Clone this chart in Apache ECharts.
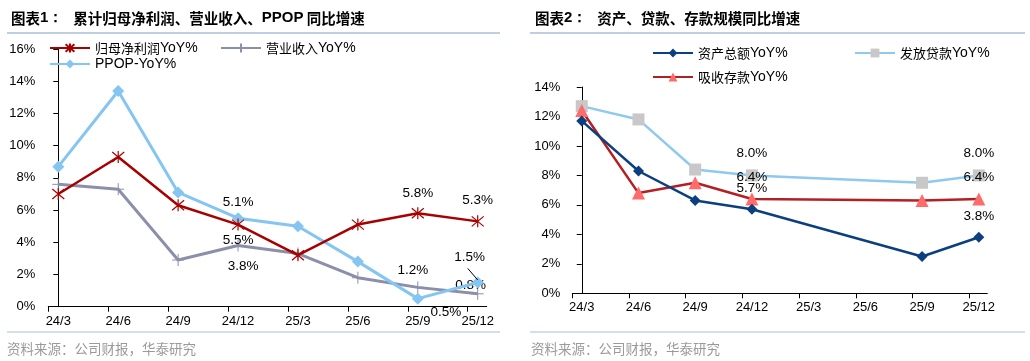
<!DOCTYPE html>
<html><head><meta charset="utf-8">
<script src="https://cdn.jsdelivr.net/npm/echarts@6/dist/echarts.min.js"></script>
<style>html,body{margin:0;padding:0;background:#fff}#c{width:1030px;height:361px}</style>
</head><body><div id="c"></div>
<script>
// ---------- data ----------
const categories = ['24/3','24/6','24/9','24/12','25/3','25/6','25/9','25/12'];
// chart 1 (%)
const netProfitYoY = [7.0, 9.3, 6.3, 5.1, 3.2, 5.1, 5.8, 5.3];
const revenueYoY   = [7.6, 7.3, 2.9, 3.8, 3.3, 1.8, 1.2, 0.8];
const ppopYoY      = [8.7, 13.4, 7.1, 5.5, 5.0, 2.8, 0.5, 1.5];
// chart 2 (%)
const assetsYoY    = [11.7, 8.3, 6.3, 5.7, null, null, 2.5, 3.8];
const loansYoY     = [12.7, 11.8, 8.4, 8.0, null, null, 7.5, 8.0];
const depositsYoY  = [12.4, 6.8, 7.5, 6.4, null, null, 6.3, 6.4];
const names1 = ['归母净利润YoY%','营业收入YoY%','PPOP-YoY%'];
const names2 = ['资产总额YoY%','发放贷款YoY%','吸收存款YoY%'];

// ---------- label placement (pixel offsets from point) ----------
const lblNet  = {3:[0,-22], 6:[0,-20], 7:[0,-21]};
const lblRev  = {3:[5,21], 6:[-5,-17], 7:[-7,-9]};
const lblPpop = {3:[0,22.5], 6:[28,14], 7:[-8,-25]};
const lblAst  = {3:[0,-21], 7:[0,-21]};
const lblLoan = {3:[0,-22], 7:[0,-22]};
const lblDep  = {3:[0,-22], 7:[0,-22]};

const LAT = 'Liberation Sans, Arial, sans-serif';
const CJK = 'Noto Sans CJK SC, sans-serif';

function pts(vals, lbl){
  const out = [];
  vals.forEach((v,i)=>{
    if (v == null) return;
    const o = {value:[i, v]};
    if (lbl[i]) o.label = {show:true, position:'inside', offset:lbl[i]};
    out.push(o);
  });
  return out;
}
const labelBase = {show:false, color:'#000', fontSize:13.5, fontFamily:LAT,
  formatter: p => p.value[1].toFixed(1) + '%'};

function xAxisCfg(gi){
  return {type:'value', gridIndex:gi, min:-1/6, max:7.15,
    axisLine:{show:true, onZero:false, lineStyle:{color:'#000', width:1}},
    axisTick:{show:true, length:5, customValues:categories.map((_,i)=>i-1/6), lineStyle:{color:'#000'}},
    axisLabel:{customValues:categories.map((_,i)=>i), formatter:v=>categories[Math.round(v)],
      color:'#000', fontSize:13, fontFamily:LAT, margin:8},
    splitLine:{show:false}};
}
function yAxisCfg(gi, max, margin){
  return {type:'value', gridIndex:gi, min:0, max:max, interval:2,
    axisLine:{show:true, lineStyle:{color:'#000', width:1}},
    axisTick:{show:true, length:5, lineStyle:{color:'#000'}},
    axisLabel:{formatter:v=>v+'%', color:'#000', fontSize:13, fontFamily:LAT, margin:margin},
    splitLine:{show:false}};
}
const richLegend = {c:{fontFamily:CJK, fontSize:13, color:'#000'}, l:{fontFamily:LAT, fontSize:14, color:'#000'}};
function legendFmt(n){
  const m = n.match(/^([^A-Za-z]*)(.*)$/);
  return (m[1] ? '{c|'+m[1]+'}' : '') + '{l|'+m[2]+'}';
}
function leg(name, left, top){
  return {data:[name], left:left, top:top, itemWidth:40, itemHeight:11, padding:0,
    formatter:legendFmt, textStyle:{rich:richLegend, lineHeight:16}, selectedMode:false};
}

const asterisk = 'path://M0,0L10,10M10,0L0,10M5,-1L5,11';
const plus = 'path://M5,0L5,10M0,5L10,5';

const chart = echarts.init(document.getElementById('c'), null, {renderer:'canvas'});
const titleRich = {
  a:{fontFamily:LAT, fontWeight:'bold', fontSize:15, color:'#000'},
  b:{fontFamily:CJK, fontWeight:'bold', fontSize:14.5, color:'#000'},
  c:{fontFamily:LAT, fontWeight:'bold', fontSize:15, color:'#000'}
};
const footer = '资料来源：公司财报，华泰研究';
chart.setOption({
  animation:false,
  title:[
    {left:6, top:4, text:'{b|图表}{a|1：}  {b|累计归母净利润、营业收入、}{c|PPOP}{b| 同比增速}', textStyle:{rich:titleRich}},
    {left:530, top:4, text:'{b|图表}{a|2：}  {b|资产、贷款、存款规模同比增速}', textStyle:{rich:titleRich}}
  ],
  graphic:[
    {type:'line', shape:{x1:7,y1:33,x2:500,y2:33}, style:{stroke:'#A9BFD8', lineWidth:1.5}},
    {type:'line', shape:{x1:530,y1:33,x2:1025,y2:33}, style:{stroke:'#A9BFD8', lineWidth:1.5}},
    {type:'line', shape:{x1:7,y1:332,x2:500,y2:332}, style:{stroke:'#A9BFD8', lineWidth:1}},
    {type:'line', shape:{x1:530,y1:332,x2:1025,y2:332}, style:{stroke:'#A9BFD8', lineWidth:1}},
    {type:'text', left:7, top:342, style:{text:footer, font:'13.5px '+CJK, fill:'#9A9A9A'}},
    {type:'text', left:531, top:342, style:{text:footer, font:'13.5px '+CJK, fill:'#9A9A9A'}}
  ],
  legend:[
    leg(names1[0], 49, 40), leg(names1[1], 220, 40), leg(names1[2], 49, 56),
    leg(names2[0], 652, 45), leg(names2[2], 652, 69), leg(names2[1], 854, 45)
  ],
  grid:[
    {left:48.3, right:1030-486.7, top:49.1, bottom:361-306.7},
    {left:572.3, right:1030-987.3, top:87, bottom:361-293.3}
  ],
  xAxis:[xAxisCfg(0), xAxisCfg(1)],
  yAxis:[yAxisCfg(0,16,13), yAxisCfg(1,14,12)],
  series:[
    {name:names1[1], type:'line', xAxisIndex:0, yAxisIndex:0, data:pts(revenueYoY, lblRev),
      symbol:plus, symbolSize:12, lineStyle:{color:'#8C8FAA', width:3},
      itemStyle:{color:'#8C8FAA', borderColor:'#8C8FAA', borderWidth:1}, label:labelBase, z:2},
    {name:names1[2], type:'line', xAxisIndex:0, yAxisIndex:0, data:pts(ppopYoY, lblPpop),
      symbol:'diamond', symbolSize:12, lineStyle:{color:'#85C5F2', width:3},
      itemStyle:{color:'#85C5F2', borderWidth:0}, label:labelBase, z:3,
      markLine:{silent:true, symbol:['none','none'], label:{show:false},
        lineStyle:{color:'#000', width:1, type:'solid'},
        data:[[{coord:[7-1/6, ppopYoY[7]+0.88]},{coord:[7, ppopYoY[7]+0.16]}]]}},
    {name:names1[0], type:'line', xAxisIndex:0, yAxisIndex:0, data:pts(netProfitYoY, lblNet),
      symbol:asterisk, symbolSize:12, lineStyle:{color:'#A80000', width:2.5},
      itemStyle:{color:'#A80000', borderColor:'#A80000', borderWidth:1.2}, label:labelBase, z:4},

    {name:names2[1], type:'line', xAxisIndex:1, yAxisIndex:1, data:pts(loansYoY, lblLoan),
      symbol:'rect', symbolSize:12, lineStyle:{color:'#8FC9F0', width:2.5},
      itemStyle:{color:'#C8C8C8', borderWidth:0}, label:labelBase, z:2},
    {name:names2[2], type:'line', xAxisIndex:1, yAxisIndex:1, data:pts(depositsYoY, lblDep),
      symbol:'triangle', symbolSize:13, lineStyle:{color:'#B41F24', width:2.5},
      itemStyle:{color:'#FF6B6B', borderWidth:0}, label:labelBase, z:3},
    {name:names2[0], type:'line', xAxisIndex:1, yAxisIndex:1, data:pts(assetsYoY, lblAst),
      symbol:'diamond', symbolSize:11, lineStyle:{color:'#0B3F80', width:2.5},
      itemStyle:{color:'#0B3F80', borderWidth:0}, label:labelBase, z:4}
  ]
});
</script></body></html>
